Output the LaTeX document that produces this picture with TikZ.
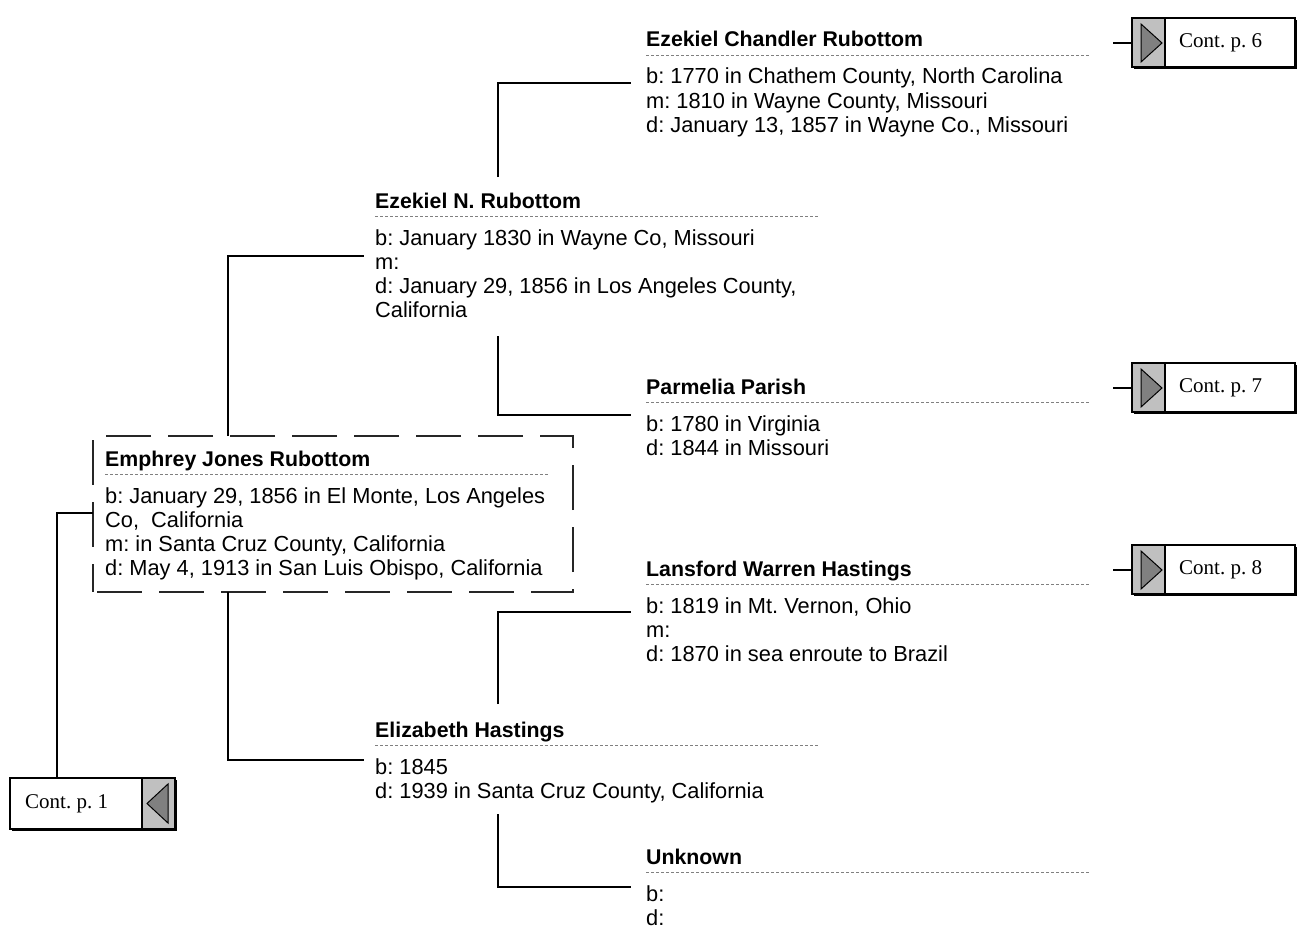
\documentclass[tikz,border=0pt]{standalone}
\usepackage{fontspec}
\setmainfont{Liberation Sans}
\newfontfamily\contserif{Liberation Serif}
\newcommand\infofont{\frenchspacing\fontsize{21.8}{24}\selectfont}
\newcommand\ttlfont{\frenchspacing\fontsize{21.3}{24}\selectfont\bfseries}
\definecolor{boxgray}{HTML}{C0C0C0}
\definecolor{trigray}{HTML}{808080}
\definecolor{sepgray}{HTML}{808080}
\tikzset{
  info/.style={anchor=base west, inner sep=0pt, font=\infofont},
  ttl/.style={info, font=\ttlfont},
  sepline/.style={draw=sepgray, line width=0.8pt, dash pattern=on 3pt off 2pt},
  conn/.style={draw=black, line width=1.6pt},
  rootframe/.style={draw=black!85, line width=1.2pt, dash pattern=on 45pt off 17pt, dash phase=58pt},
  conttxt/.style={anchor=west, inner sep=0pt, font=\contserif\frenchspacing\fontsize{21}{24}\selectfont},
}
\newcommand\contright[3]{% #1 name, #2 center y, #3 text
  \fill[black] (1134,#2-23) rectangle (1297,#2+26);
  \draw[line width=1.2pt, fill=white] (1132,#2-25) rectangle (1295,#2+24);
  \draw[line width=1.2pt, fill=boxgray] (1132,#2-25) rectangle (1165,#2+24);
  \draw[line width=1pt, fill=trigray] (1141,#2-19) -- (1162,#2) -- (1141,#2+19) -- cycle;
  \coordinate (#1in) at (1132,#2);
  \coordinate (#1out) at (1113,#2);
  \draw[conn] (#1out) -- (#1in);
  \node[conttxt] (#1) at (1179,#2) {#3};
}
\begin{document}
\begin{tikzpicture}[x=1pt,y=-1pt]
\useasboundingbox (0,0) rectangle (1307,942);

% ---------- Ezekiel Chandler Rubottom ----------
\node[ttl] (aT) at (646,47) {Ezekiel Chandler Rubottom};
\draw[sepline] (646,55) -- (1090,55);
\node[info] (a1) at (646,84) {b: 1770 in Chathem County, North Carolina};
\node[info] (a2) at (646,108) {m: 1810 in Wayne County, Missouri};
\node[info] (a3) at (646,132) {d: January 13, 1857 in Wayne Co., Missouri};

% ---------- Ezekiel N. Rubottom ----------
\node[ttl] (bT) at (375,208) {Ezekiel N. Rubottom};
\draw[sepline] (375,216) -- (819,216);
\node[info] (b1) at (375,245) {b: January 1830 in Wayne Co, Missouri};
\node[info] (b2) at (375,269) {m:};
\node[info] (b3) at (375,293) {d: January 29, 1856 in Los Angeles County,};
\node[info] (b4) at (375,317) {California};

% ---------- Parmelia Parish ----------
\node[ttl] (cT) at (646,394) {Parmelia Parish};
\draw[sepline] (646,402) -- (1090,402);
\node[info] (c1) at (646,431) {b: 1780 in Virginia};
\node[info] (c2) at (646,455) {d: 1844 in Missouri};

% ---------- Root ----------
\node[rootframe, minimum width=480pt, minimum height=156pt, inner sep=0pt] (rootbox) at (333,514) {};
\node[ttl] (rT) at (105,466) {Emphrey Jones Rubottom};
\draw[sepline] (105,474) -- (549,474);
\node[info] (r1) at (105,503) {b: January 29, 1856 in El Monte, Los Angeles};
\node[info] (r2) at (105,527) {Co,\ \ California};
\node[info] (r3) at (105,551) {m: in Santa Cruz County, California};
\node[info] (r4) at (105,575) {d: May 4, 1913 in San Luis Obispo, California};

% ---------- Lansford Warren Hastings ----------
\node[ttl] (dT) at (646,576) {Lansford Warren Hastings};
\draw[sepline] (646,584) -- (1090,584);
\node[info] (d1) at (646,613) {b: 1819 in Mt. Vernon, Ohio};
\node[info] (d2) at (646,637) {m:};
\node[info] (d3) at (646,661) {d: 1870 in sea enroute to Brazil};

% ---------- Elizabeth Hastings ----------
\node[ttl] (eT) at (375,737) {Elizabeth Hastings};
\draw[sepline] (375,745) -- (819,745);
\node[info] (e1) at (375,774) {b: 1845};
\node[info] (e2) at (375,798) {d: 1939 in Santa Cruz County, California};

% ---------- Unknown ----------
\node[ttl] (fT) at (646,864) {Unknown};
\draw[sepline] (646,872) -- (1090,872);
\node[info] (f1) at (646,901) {b:};
\node[info] (f2) at (646,925) {d:};

% ---------- connector anchor points ----------
\coordinate (rTop) at (228,436);
\coordinate (rBot) at (228,592);
\coordinate (rLeft) at (93,513);
\coordinate (bIn) at (364,256);
\coordinate (eIn) at (364,760);
\coordinate (bTop) at (498,177);
\coordinate (bBot) at (498,336);
\coordinate (eTop) at (498,704);
\coordinate (eBot) at (498,814);
\coordinate (aIn) at (631,83);
\coordinate (cIn) at (631,415);
\coordinate (dIn) at (631,612);
\coordinate (fIn) at (631,887);

\draw[conn] (rTop) |- (bIn);
\draw[conn] (rBot) |- (eIn);
\draw[conn] (bTop) |- (aIn);
\draw[conn] (bBot) |- (cIn);
\draw[conn] (eTop) |- (dIn);
\draw[conn] (eBot) |- (fIn);

% ---------- continuation boxes ----------
\contright{cont6}{43}{Cont. p. 6}
\contright{cont7}{388}{Cont. p. 7}
\contright{cont8}{570}{Cont. p. 8}

% Cont. p. 1 (left)
\fill[black] (12,780) rectangle (177,831);
\draw[line width=1.2pt, fill=white] (10,778) rectangle (175,829);
\draw[line width=1.2pt, fill=boxgray] (142,778) rectangle (175,829);
\draw[line width=1pt, fill=trigray] (168,784) -- (147,803.5) -- (168,823) -- cycle;
\node[conttxt] (cont1) at (25,803.5) {Cont. p. 1};
\coordinate (c1Top) at (57,778);
\draw[conn] (c1Top) |- (rLeft);
\end{tikzpicture}
\end{document}
